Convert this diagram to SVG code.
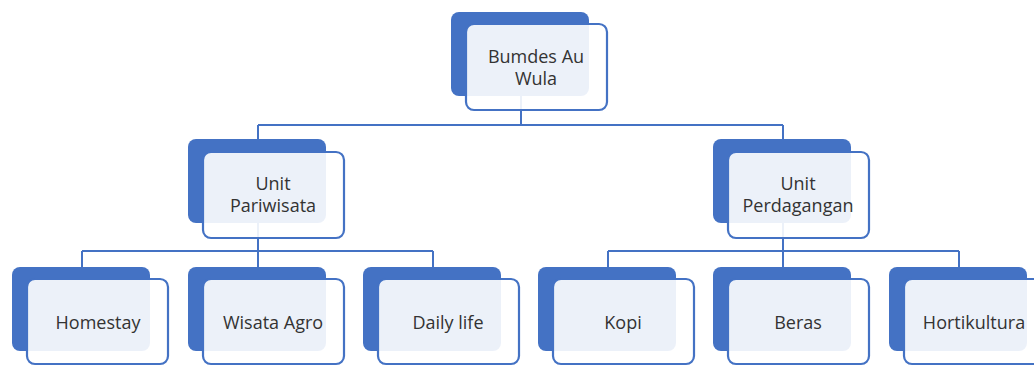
<svg xmlns="http://www.w3.org/2000/svg" width="1034" height="367" viewBox="0 0 1034 367">
<style>
.back{fill:#4472C4;}
.front{fill:#ffffff;fill-opacity:0.9;stroke:#4472C4;stroke-width:2.2;}
.conn{fill:none;stroke:#4472C4;stroke-width:2;}
text{font-family:"Open Sans","DejaVu Sans",sans-serif;font-size:18px;fill:#333333;text-anchor:middle;}
</style>
<rect width="1034" height="367" fill="#ffffff"/>
<g id="connectors">
<path class="conn" d="M521 95V125M258 125H783M258 125V139M783 125V139"/>
<path class="conn" d="M258 223V251M82 251H433M82 251V267M258 251V267M433 251V267"/>
<path class="conn" d="M783 223V251M608 251H959M608 251V267M783 251V267M959 251V267"/>
</g>
<g id="n-bumdes">
<rect class="back" x="451" y="12" width="138" height="84" rx="8"/>
<rect class="front" x="466" y="24" width="141" height="86" rx="8"/>
<text x="536" y="63">Bumdes Au</text>
<text x="536" y="85">Wula</text>
</g>
<g id="n-pariwisata">
<rect class="back" x="188" y="139" width="138" height="84" rx="8"/>
<rect class="front" x="203" y="152" width="141" height="86" rx="8"/>
<text x="273" y="190">Unit</text>
<text x="273" y="212">Pariwisata</text>
</g>
<g id="n-perdagangan">
<rect class="back" x="713" y="139" width="138" height="84" rx="8"/>
<rect class="front" x="728" y="152" width="141" height="86" rx="8"/>
<text x="798" y="190">Unit</text>
<text x="798" y="212">Perdagangan</text>
</g>
<g id="n-homestay">
<rect class="back" x="12" y="267" width="138" height="84" rx="8"/>
<rect class="front" x="27" y="279" width="141" height="85" rx="8"/>
<text x="98" y="329">Homestay</text>
</g>
<g id="n-wisata">
<rect class="back" x="188" y="267" width="138" height="84" rx="8"/>
<rect class="front" x="203" y="279" width="141" height="85" rx="8"/>
<text x="273" y="329">Wisata Agro</text>
</g>
<g id="n-daily">
<rect class="back" x="363" y="267" width="138" height="84" rx="8"/>
<rect class="front" x="378" y="279" width="141" height="85" rx="8"/>
<text x="448" y="329">Daily life</text>
</g>
<g id="n-kopi">
<rect class="back" x="538" y="267" width="138" height="84" rx="8"/>
<rect class="front" x="553" y="279" width="141" height="85" rx="8"/>
<text x="623" y="329">Kopi</text>
</g>
<g id="n-beras">
<rect class="back" x="713" y="267" width="138" height="84" rx="8"/>
<rect class="front" x="728" y="279" width="141" height="85" rx="8"/>
<text x="798" y="329">Beras</text>
</g>
<g id="n-hortikultura">
<rect class="back" x="889" y="267" width="138" height="84" rx="8"/>
<rect class="front" x="904" y="279" width="141" height="85" rx="8"/>
<text x="974" y="329">Hortikultura</text>
</g>
</svg>
